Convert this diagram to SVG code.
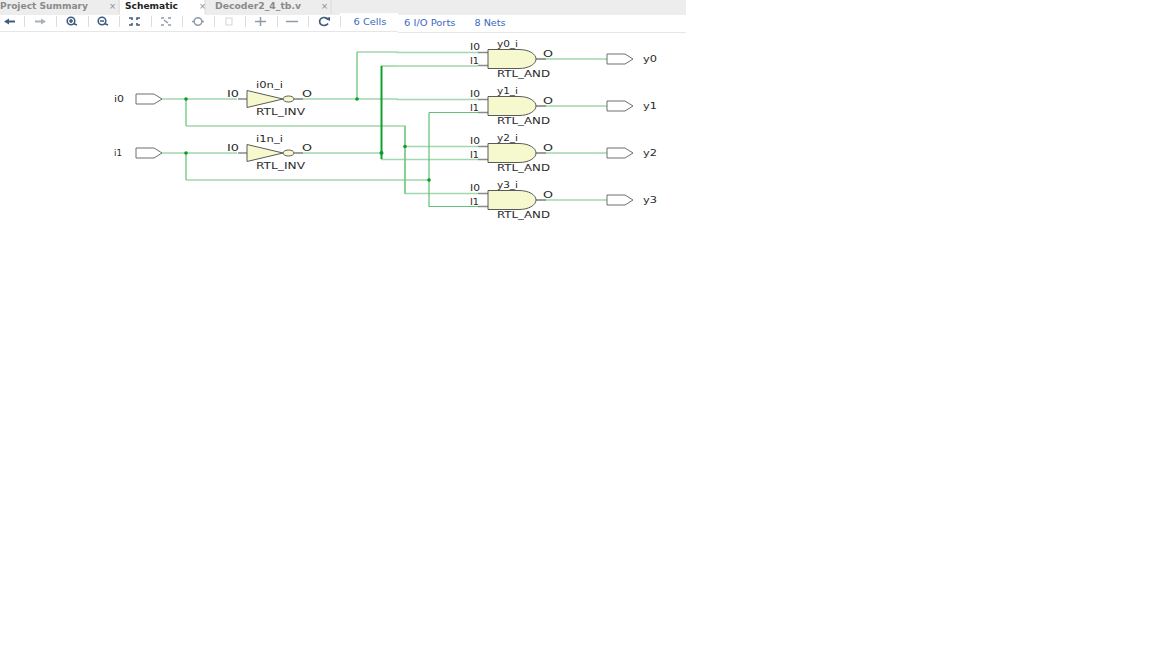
<svg xmlns="http://www.w3.org/2000/svg" width="1152" height="648" viewBox="0 0 1152 648">
<style>
text{font-family:"DejaVu Sans","Liberation Sans",sans-serif;font-size:9.5px;fill:#2a2a2a}
.w{fill:none;stroke:#a3d8aa;stroke-width:1.3}
.b{fill:none;stroke:#62c274;stroke-width:1.2}
.bb{fill:none;stroke:#12a02e;stroke-width:2}
.d{fill:#0d9a2a}
.p{fill:#fff;stroke:#6e6e6e;stroke-width:1}
.g{fill:#f6f9cd;stroke:#5a5a5a;stroke-width:1}
.s{fill:none;stroke:#8a8a8a;stroke-width:1.4}
.tab{font-size:8.5px;font-weight:bold;fill:#8a8a8a}
.lnk{font-size:8.5px;fill:#3a69c4}
.ic{fill:none;stroke:#8e9aa8;stroke-width:1.5}
.ib{fill:none;stroke:#3f5c80;stroke-width:1.6}
.sep{stroke:#dcdcdc;stroke-width:1}
</style>
<defs>
<g id="and"><path class="s" d="M-10-6.500H0M-10 6.500H0M48 0H58"/><path class="g" d="M0-9.500H31C41-9.500 48-5 48 0S41 9.500 31 9.500H0Z"/></g>
<g id="inv"><path class="s" d="M-9 0H0M47 0H56"/><path class="g" d="M0-8.500L36 0L0 8.500Z"/><ellipse class="g" cx="41.500" cy="0" rx="5.500" ry="3"/></g>
<path id="port" class="p" d="M0-5H18L26 0L18 5H0Z"/>
</defs>
<rect id="tabbar" x="0" y="0" width="686" height="15" fill="#ededed"/>
<rect x="120" y="0" width="85" height="15" fill="#fff"/>
<rect x="0" y="15" width="686" height="17" fill="#fff"/>
<rect x="340" y="13" width="58" height="18" fill="#fff"/>
<path d="M0 31.500H398M398 32.500H686" stroke="#e6e6e6" stroke-width="1" fill="none"/>
<path class="sep" d="M119 0V14M205 0V14M331 0V14"/>
<g id="tabs">
<text class="tab" x="0" y="9" textLength="88" lengthAdjust="spacingAndGlyphs">Project Summary</text>
<text class="tab" x="109" y="9" style="font-weight:normal">×</text>
<text class="tab" x="125" y="9" textLength="53" lengthAdjust="spacingAndGlyphs" style="fill:#222">Schematic</text>
<text class="tab" x="199" y="9" style="font-weight:normal">×</text>
<text class="tab" x="215" y="9" textLength="86" lengthAdjust="spacingAndGlyphs">Decoder2_4_tb.v</text>
<text class="tab" x="321" y="9" style="font-weight:normal">×</text>
</g>
<g id="toolbar">
<path d="M4 21.500L9 18.500V20.500H15V22.500H9V24.500Z" fill="#3f5c80"/>
<path d="M46 21.500L41 18.500V20.500H35V22.500H41V24.500Z" fill="#a8b0b8"/>
<circle class="ib" cx="71" cy="21" r="3.800"/><path class="ib" d="M73.500 23.500L77 25M69 21H73M71 19V23"/>
<circle class="ib" cx="102" cy="21" r="3.800"/><path class="ib" d="M104.500 23.500L108 25M100 21H104"/>
<path class="ib" d="M129 18H132V20M140 18H137V20M129 25H132V23M140 25H137V23"/>
<path class="ic" d="M161 18H164M171 18H168M161 25H164M171 25H168M164 20L168 23"/>
<circle class="ic" cx="198" cy="21.500" r="3.800"/><path class="ic" d="M192 21.500H194M202 21.500H204"/>
<rect x="226" y="18" width="6" height="7" fill="none" stroke="#d5d5d5"/>
<path class="ic" d="M255 21.500H266M260.500 17V26"/>
<path class="ic" d="M286 21.500H298"/>
<path d="M328 19.500A4.500 4 0 1 0 328 23.500" fill="none" stroke="#3f5c80" stroke-width="1.7"/><path d="M325 18.500L330 17V21Z" fill="#3f5c80"/>
<path class="sep" d="M24.500 16V27M56.500 16V27M88.500 16V27M119.500 16V27M151.500 16V27M182.500 16V27M214.500 16V27M245.500 16V27M277.500 16V27M308.500 16V27M340.500 16V27"/>
</g>
<g id="stats">
<text class="lnk" x="353.500" y="25" textLength="33" lengthAdjust="spacingAndGlyphs">6 Cells</text>
<text class="lnk" x="404" y="26" textLength="51.500" lengthAdjust="spacingAndGlyphs">6 I/O Ports</text>
<text class="lnk" x="474.500" y="26" textLength="31" lengthAdjust="spacingAndGlyphs">8 Nets</text>
</g>
<g id="connectors">
<path class="w" d="M162 99H237M186 126H405V193.500H478M296 99H397V99.500H478M162 153H237M186 180H429M296 153H381"/>
<path class="w" d="M405 146.500H478M381 159.500H478M536 59H607M536 106H607M536 153H607M536 200H607M397 66H478M357 52H397V52.500H478"/>
<path class="b" d="M186 99V126M186 153V180M357 52V99M429 112.500V206.500H478M429 112.500H478M381 66H397M405 126V193.500"/>
<path class="bb" d="M381.500 66V159"/>
<circle class="d" cx="186" cy="99" r="1.800"/><circle class="d" cx="186" cy="153" r="1.800"/>
<circle class="d" cx="357" cy="99" r="1.800"/><circle class="d" cx="381.500" cy="153" r="2"/>
<circle class="d" cx="405" cy="146.500" r="1.800"/><circle class="d" cx="429" cy="180" r="1.800"/>
</g>
<g id="i0"><use href="#port" x="136" y="99"/><text x="114" y="102" textLength="10" lengthAdjust="spacingAndGlyphs">i0</text></g>
<g id="i1"><use href="#port" x="136" y="153"/><text x="114" y="156" textLength="8" lengthAdjust="spacingAndGlyphs">i1</text></g>
<g id="i0n_i"><use href="#inv" x="247" y="99"/><text x="227" y="97" textLength="12" lengthAdjust="spacingAndGlyphs">I0</text><text x="302" y="97" textLength="10" lengthAdjust="spacingAndGlyphs">O</text><text x="256" y="88" textLength="27" lengthAdjust="spacingAndGlyphs">i0n_i</text><text x="256" y="115" textLength="49" lengthAdjust="spacingAndGlyphs">RTL_INV</text></g>
<g id="i1n_i"><use href="#inv" x="247" y="153"/><text x="227" y="151" textLength="12" lengthAdjust="spacingAndGlyphs">I0</text><text x="302" y="151" textLength="10" lengthAdjust="spacingAndGlyphs">O</text><text x="256" y="142" textLength="27" lengthAdjust="spacingAndGlyphs">i1n_i</text><text x="256" y="169" textLength="49" lengthAdjust="spacingAndGlyphs">RTL_INV</text></g>
<g id="y0_i"><use href="#and" x="488" y="59"/><text x="470" y="50" textLength="10" lengthAdjust="spacingAndGlyphs">I0</text><text x="470" y="64" textLength="9" lengthAdjust="spacingAndGlyphs">I1</text><text x="543" y="57" textLength="10" lengthAdjust="spacingAndGlyphs">O</text><text x="497" y="47" textLength="21" lengthAdjust="spacingAndGlyphs">y0_i</text><text x="497" y="77" textLength="53" lengthAdjust="spacingAndGlyphs">RTL_AND</text></g>
<g id="y1_i"><use href="#and" x="488" y="106"/><text x="470" y="97" textLength="10" lengthAdjust="spacingAndGlyphs">I0</text><text x="470" y="111" textLength="9" lengthAdjust="spacingAndGlyphs">I1</text><text x="543" y="104" textLength="10" lengthAdjust="spacingAndGlyphs">O</text><text x="497" y="94" textLength="21" lengthAdjust="spacingAndGlyphs">y1_i</text><text x="497" y="124" textLength="53" lengthAdjust="spacingAndGlyphs">RTL_AND</text></g>
<g id="y2_i"><use href="#and" x="488" y="153"/><text x="470" y="144" textLength="10" lengthAdjust="spacingAndGlyphs">I0</text><text x="470" y="158" textLength="9" lengthAdjust="spacingAndGlyphs">I1</text><text x="543" y="151" textLength="10" lengthAdjust="spacingAndGlyphs">O</text><text x="497" y="141" textLength="21" lengthAdjust="spacingAndGlyphs">y2_i</text><text x="497" y="171" textLength="53" lengthAdjust="spacingAndGlyphs">RTL_AND</text></g>
<g id="y3_i"><use href="#and" x="488" y="200"/><text x="470" y="191" textLength="10" lengthAdjust="spacingAndGlyphs">I0</text><text x="470" y="205" textLength="9" lengthAdjust="spacingAndGlyphs">I1</text><text x="543" y="198" textLength="10" lengthAdjust="spacingAndGlyphs">O</text><text x="497" y="188" textLength="21" lengthAdjust="spacingAndGlyphs">y3_i</text><text x="497" y="218" textLength="53" lengthAdjust="spacingAndGlyphs">RTL_AND</text></g>
<g id="y0"><use href="#port" x="607" y="59"/><text x="643" y="62" textLength="14" lengthAdjust="spacingAndGlyphs">y0</text></g>
<g id="y1"><use href="#port" x="607" y="106"/><text x="643" y="109" textLength="14" lengthAdjust="spacingAndGlyphs">y1</text></g>
<g id="y2"><use href="#port" x="607" y="153"/><text x="643" y="156" textLength="14" lengthAdjust="spacingAndGlyphs">y2</text></g>
<g id="y3"><use href="#port" x="607" y="200"/><text x="643" y="203" textLength="14" lengthAdjust="spacingAndGlyphs">y3</text></g>
</svg>
